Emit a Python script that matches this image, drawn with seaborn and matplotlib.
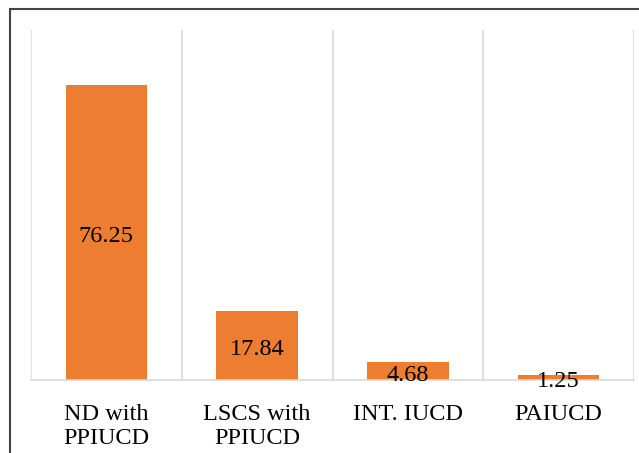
import matplotlib
matplotlib.use("Agg")
import matplotlib.pyplot as plt
import seaborn as sns
import pandas as pd
from matplotlib.patches import Rectangle
from matplotlib.transforms import offset_copy

categories = ["ND with\nPPIUCD", "LSCS with\nPPIUCD", "INT. IUCD", "PAIUCD"]
values = [76.25, 17.84, 4.68, 1.25]
value_labels = ["76.25", "17.84", "4.68", "1.25"]

sns.set_theme(style="white")
plt.rcParams['font.family'] = ['Liberation Serif', 'DejaVu Serif']

df = pd.DataFrame({"cat": categories, "val": values})

fig = plt.figure(figsize=(6.39, 4.53), dpi=100)
ax = fig.add_axes([31/639, 1-380/453, (634-31)/639, 350/453])

sns.barplot(data=df, x="cat", y="val", color="#ED7D31", width=0.54,
            saturation=1, ax=ax, edgecolor="none")

ax.set_xlim(-0.5, 3.5)
ax.set_ylim(0, 90.5)
ax.set_xlabel("")
ax.set_ylabel("")
ax.set_yticks([])
ax.set_xticks(range(len(categories)))
ax.set_xticklabels(categories, fontsize=17.5, color="#000000", linespacing=1.22)
ax.set_xticks([-0.5, 0.5, 1.5, 2.5, 3.5], minor=True)
ax.tick_params(axis="x", which="both", length=0, pad=17)
ax.grid(False)
ax.grid(True, axis="x", which="minor", color="#D9D9D9", linewidth=1.2)
for s in ["top", "right", "left"]:
    ax.spines[s].set_visible(False)
ax.spines["bottom"].set_color("#D9D9D9")
ax.spines["bottom"].set_linewidth(1.2)

trans = offset_copy(ax.transData, fig=fig, x=0, y=-3, units="points")
for i, (v, lab) in enumerate(zip(values, value_labels)):
    ax.text(i, v / 2, lab, ha="center", va="center", fontsize=17.5,
            color="#000000", transform=trans)

fig.patches.append(Rectangle((10/639, -0.1), 1.2, 1 - 9/453 + 0.1,
                             transform=fig.transFigure, fill=False,
                             edgecolor="#444444", linewidth=1.5))

fig.savefig("out.png", dpi=100)
